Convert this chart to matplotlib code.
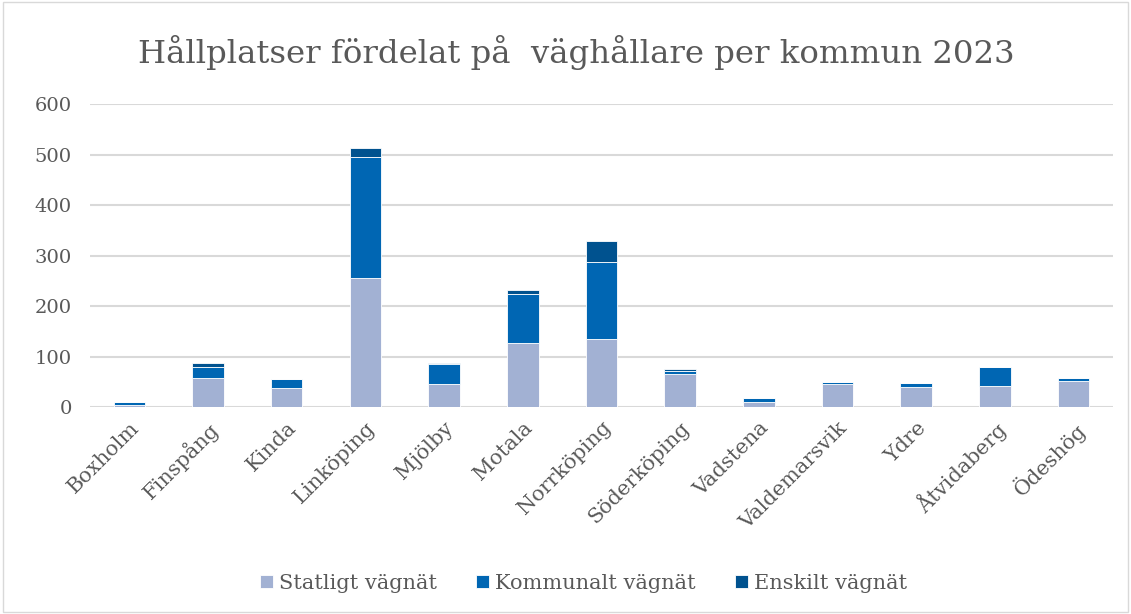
import matplotlib
matplotlib.use("Agg")
import matplotlib.pyplot as plt
import numpy as np

kommuner = ["Boxholm", "Finspång", "Kinda", "Linköping", "Mjölby", "Motala",
            "Norrköping", "Söderköping", "Vadstena", "Valdemarsvik", "Ydre",
            "Åtvidaberg", "Ödeshög"]
statligt = [4, 57, 38, 256, 45, 126, 134, 65, 10, 46, 40, 41, 51]
kommunalt = [5, 23, 17, 239, 41, 98, 154, 7, 7, 3, 7, 38, 6]
enskilt = [1, 7, 1, 17, 1, 7, 40, 4, 1, 1, 1, 0, 1]

series = [("Statligt vägnät", statligt, "#A2B1D3"),
          ("Kommunalt vägnät", kommunalt, "#0066B3"),
          ("Enskilt vägnät", enskilt, "#00528F")]

plt.rcParams['font.family'] = ['DejaVu Serif']
txt = "#595959"

fig = plt.figure(figsize=(11.31, 6.14), dpi=100)
ax = fig.add_axes([0.0796, 0.3371, 0.9044, 0.4935])

x = np.arange(len(kommuner))
bottom = np.zeros(len(kommuner))
for name, vals, col in series:
    ax.bar(x, vals, 0.4, bottom=bottom, color=col, label=name,
           edgecolor="white", linewidth=0.6, zorder=3)
    bottom += np.array(vals)

ax.set_ylim(0, 600)
ax.set_xlim(-0.5, len(kommuner) - 0.5)
ax.set_yticks(range(0, 601, 100))
ax.yaxis.grid(True, color="#D9D9D9", linewidth=1.5, zorder=0)
for s in ax.spines.values():
    s.set_visible(False)
ax.tick_params(length=0, colors=txt, labelsize=14)
ax.tick_params(axis="y", pad=13)
ax.tick_params(axis="x", pad=8)
ax.set_xticks(x)
ax.set_xticklabels(kommuner, rotation=45, ha="right", rotation_mode="anchor",
                   fontsize=15)

fig.text(0.51, 0.915, "Hållplatser fördelat på  väghållare per kommun 2023",
         ha="center", va="center", fontsize=23.3, color=txt)

fig.legend(loc="center", bbox_to_anchor=(0.516, 0.05), ncol=3, frameon=False,
           fontsize=15, labelcolor=txt, handlelength=0.6, handleheight=0.6,
           handletextpad=0.3, columnspacing=1.9)

fig.patches.append(plt.Rectangle((0.003, 0.003), 0.994, 0.994,
                                 transform=fig.transFigure, fill=False,
                                 edgecolor="#D9D9D9", linewidth=1))

fig.savefig("out.png", dpi=100)
